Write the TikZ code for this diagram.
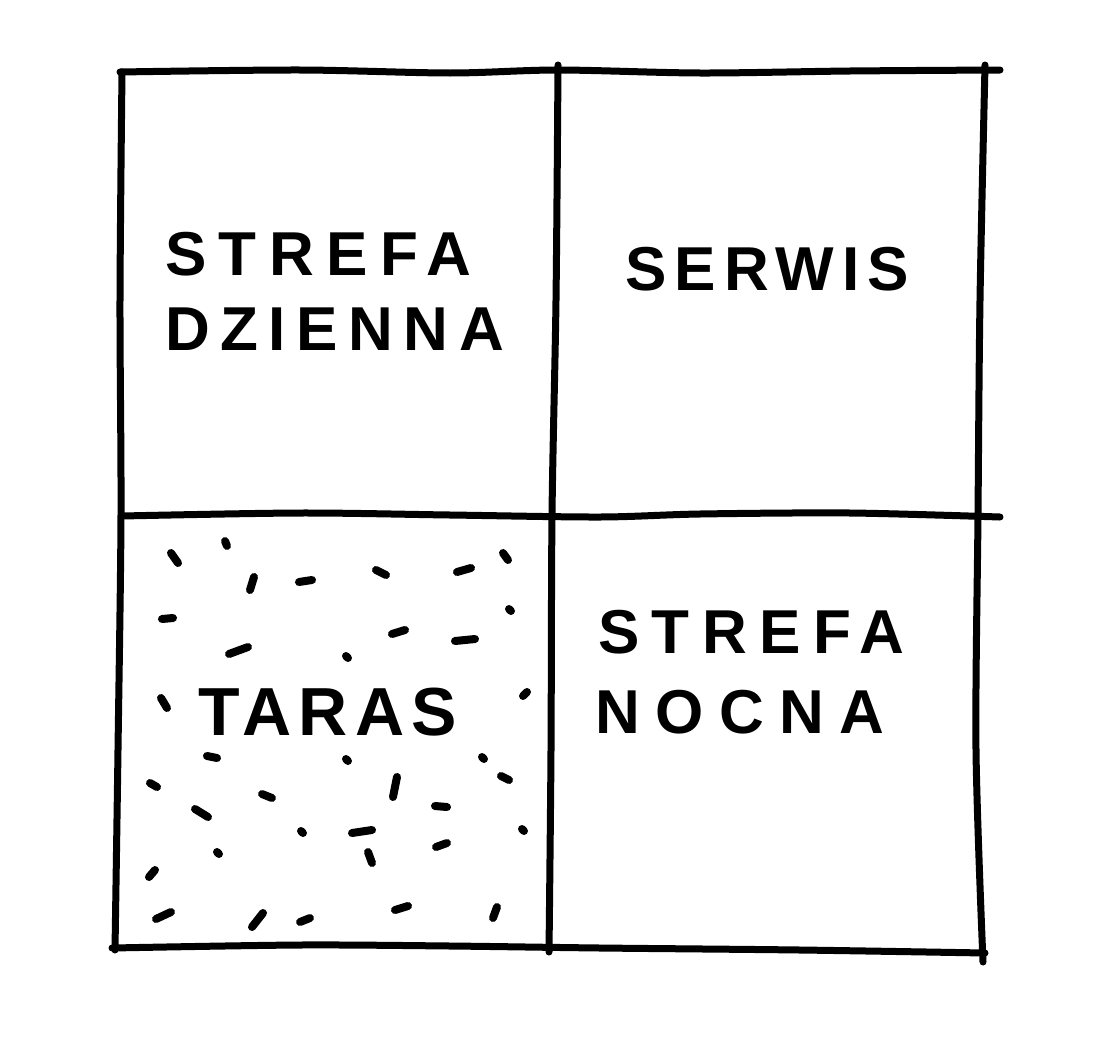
\documentclass[tikz,border=0pt]{standalone}
\usepackage{fontspec}
\setmainfont{Liberation Sans}[BoldFont={* Bold}]
\begin{document}
\begin{tikzpicture}[x=1pt,y=-1pt,
  wall/.style={line width=7pt,line cap=round,line join=round},
  speck/.style={line width=8pt,line cap=round},
  label/.style={anchor=base west,inner sep=0pt,font=\bfseries\fontsize{62}{66}\selectfont}]
\useasboundingbox (0,0) rectangle (1100,1060);
% grid lines
\draw[wall] plot[smooth] coordinates {(120,72) (300,70) (450,73) (558,70) (700,73) (850,71) (1000,70)};
\draw[wall] plot[smooth] coordinates {(122,72) (120,300) (121,515) (118,750) (115,950)};
\draw[wall] plot[smooth] coordinates {(558,65) (556,300) (552,515) (551,750) (549,952)};
\draw[wall] plot[smooth] coordinates {(985,65) (980,300) (978,515) (976,750) (983,962)};
\draw[wall] plot[smooth] coordinates {(122,516) (300,513) (450,515) (600,517) (700,514) (850,513) (1000,517)};
\draw[wall] plot[smooth] coordinates {(112,948) (300,945) (450,946) (600,948) (800,950) (985,953)};
% labels
\node[label] (sd1) at (165,275) {\addfontfeature{LetterSpace=20}STREFA};
\node[label] (sd2) at (165,350) {\addfontfeature{LetterSpace=17}DZIENNA};
\node[label] (ser) at (625,290) {\addfontfeature{LetterSpace=13}SERWIS};
\node[label,font=\bfseries\fontsize{68}{70}\selectfont] (tar) at (198,735) {\addfontfeature{LetterSpace=11}TARAS};
\node[label] (sn1) at (598,653) {\addfontfeature{LetterSpace=20}STREFA};
\node[label] (sn2) at (595,733) {\addfontfeature{LetterSpace=25}NOCNA};
% terrace specks
\foreach \a/\b/\c/\d in {
 225/541/227/546, 171/553/178/563, 254/577/250/590, 299/582/312/580,
 376/570/386/575, 457/572/471/568, 503/553/508/560, 162/619/173/618,
 509/609/511/611, 392/634/405/630, 455/641/475/639, 229/654/248/647,
 346/656/348/658, 161/698/167/708, 523/696/527/692, 207/756/217/758,
 346/759/348/761, 482/757/484/759, 150/783/157/787, 262/794/272/798,
 397/777/393/797, 501/776/509/780, 195/809/208/817, 435/806/447/807,
 301/831/303/833, 352/833/372/830, 522/829/524/831, 436/847/447/843,
 217/852/219/854, 368/852/372/863, 149/877/155/870, 156/919/171/912,
 252/927/263/913, 300/922/310/918, 395/910/408/906, 497/907/493/918}
 \draw[speck] (\a,\b) -- (\c,\d);
\end{tikzpicture}
\end{document}
